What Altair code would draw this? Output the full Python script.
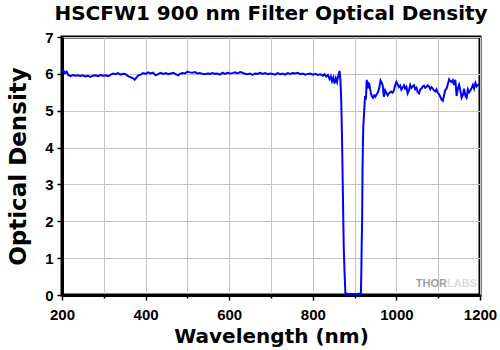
import altair as alt
import pandas as pd

# Wavelength (nm) and optical density
wavelength = [
    200, 203, 207, 211, 215, 220, 226, 232, 238, 244, 250, 256, 262, 268, 274, 280, 286, 292, 298,
    304, 310, 316, 322, 328, 334, 340, 346, 352, 358, 364, 370, 374, 378, 382, 388, 394,
    400, 406, 412, 418, 424, 430, 436, 442, 448, 454, 460, 466, 472, 478, 482, 488, 494,
    500, 506, 512, 518, 524, 530, 536, 542, 548, 554, 560, 566, 572, 578, 584, 590, 596,
    602, 608, 614, 620, 626, 632, 638, 644, 650, 656, 662, 668, 674, 680, 686, 692, 698,
    704, 710, 716, 722, 728, 734, 740, 746, 752, 758, 764, 770, 776, 782, 788, 794,
    800, 806, 812, 818, 824, 828, 832, 836, 840, 843, 846, 849, 852, 855, 858, 861, 864,
    866, 868, 870, 872, 874, 876, 878, 885, 895, 905, 915,
    916, 917, 918, 919, 920, 921, 923, 925, 927, 929, 931, 933, 935, 937, 939, 941, 944, 947,
    950, 953, 956, 959, 962, 964, 967, 970, 973, 976, 979, 982, 985, 988, 991, 994, 997,
    1000, 1003, 1006, 1009, 1012, 1015, 1018, 1021, 1024, 1027, 1030, 1033, 1036, 1039, 1042,
    1045, 1048, 1051, 1054, 1057, 1060, 1063, 1066, 1069, 1072, 1075, 1078, 1081, 1084, 1087,
    1090, 1093, 1096, 1099, 1102, 1105, 1108, 1111, 1114, 1117, 1120, 1123, 1126, 1129, 1132,
    1135, 1138, 1141, 1144, 1147, 1150, 1153, 1156, 1159, 1162, 1165, 1168, 1171, 1174, 1177,
    1180, 1183, 1186, 1189, 1192, 1195, 1200,
]
optical_density = [
    6.05, 6.10, 6.02, 6.06, 5.97, 5.94, 5.97, 5.95, 5.96, 5.94, 5.96, 5.93, 5.95, 5.92, 5.95, 5.96, 5.94, 5.97, 5.95,
    5.96, 5.94, 5.97, 6.01, 5.99, 6.02, 5.98, 6.00, 5.99, 5.94, 5.91, 5.88, 5.84, 5.90, 5.95, 5.98, 6.02,
    6.00, 6.04, 6.01, 6.03, 5.96, 5.99, 6.03, 6.00, 6.02, 5.99, 6.01, 6.03, 5.99, 5.96, 6.00, 6.02, 6.01,
    6.06, 6.04, 6.03, 6.05, 6.01, 6.02, 6.00, 5.99, 6.01, 6.00, 6.02, 6.00, 6.01, 5.98, 6.03, 6.00, 6.03,
    6.01, 6.02, 6.04, 6.01, 6.05, 6.03, 6.00, 5.99, 6.01, 5.97, 6.01, 6.00, 6.03, 6.00, 6.02, 5.99, 6.01,
    6.00, 5.98, 6.02, 5.99, 6.01, 5.98, 6.02, 6.00, 6.02, 6.01, 6.03, 5.99, 6.01, 5.98, 6.00, 6.01,
    5.98, 6.00, 5.97, 5.99, 5.95, 5.99, 5.93, 5.97, 5.86, 5.93, 5.80, 5.90, 5.74, 5.88, 5.78, 5.96, 6.08,
    5.85, 5.30, 4.20, 2.75, 1.30, 0.60, 0.04, 0.03, 0.03, 0.03, 0.04,
    0.55, 1.40, 2.00, 3.40, 4.20, 4.60, 5.00, 5.40, 5.30, 5.84, 5.60, 5.75, 5.73, 5.60, 5.48, 5.40, 5.35, 5.42,
    5.38, 5.45, 5.50, 5.62, 5.82, 5.78, 5.70, 5.38, 5.55, 5.48, 5.42, 5.47, 5.50, 5.52, 5.49, 5.55, 5.68,
    5.78, 5.72, 5.64, 5.68, 5.57, 5.62, 5.69, 5.60, 5.65, 5.47, 5.55, 5.70, 5.62, 5.66, 5.69,
    5.58, 5.62, 5.50, 5.47, 5.58, 5.60, 5.66, 5.68, 5.62, 5.64, 5.69, 5.66, 5.58, 5.64, 5.60,
    5.55, 5.52, 5.58, 5.48, 5.45, 5.38, 5.30, 5.27, 5.42, 5.56, 5.60, 5.72, 5.85, 5.80, 5.78,
    5.83, 5.70, 5.84, 5.40, 5.60, 5.70, 5.55, 5.35, 5.42, 5.60, 5.40, 5.35, 5.58, 5.50, 5.55,
    5.62, 5.70, 5.60, 5.75, 5.66, 5.70, 5.68,
]

x_grid_values = list(range(200, 1201, 100))
y_grid_values = [i / 2 for i in range(0, 15)]

df = pd.DataFrame({"wl": wavelength, "od": optical_density})

FONT = "Liberation Sans"
WIDE = "DejaVu Sans"

line = alt.Chart(df).mark_line(color="#0000FF", strokeWidth=2).encode(
    x=alt.X(
        "wl:Q",
        scale=alt.Scale(domain=[200, 1200], nice=False, zero=False),
        axis=alt.Axis(
            title="Wavelength (nm)",
            titleFont=WIDE,
            titleFontSize=20,
            values=x_grid_values,
            format="d",
            labelExpr="datum.value % 200 === 0 ? datum.label : ''",
            tickSize={"condition": {"test": "datum.value % 200 === 0", "value": 5}, "value": 3},
            labelPadding=7,
            titlePadding=4,
            labelFlush=False,
            labelOverlap=False,
            grid=True,
        ),
    ),
    y=alt.Y(
        "od:Q",
        scale=alt.Scale(domain=[0, 7], nice=False),
        axis=alt.Axis(
            title="Optical Density",
            titleFont=WIDE,
            titleFontSize=23,
            values=y_grid_values,
            format="d",
            labelExpr="datum.value % 1 === 0 ? datum.label : ''",
            tickSize={"condition": {"test": "datum.value % 1 === 0", "value": 5}, "value": 3},
            labelPadding=4,
            titlePadding=14,
            labelFlush=False,
            labelOverlap=False,
            grid=True,
        ),
    ),
)

thor = alt.Chart(pd.DataFrame({"t": ["THOR"]})).mark_text(
    font=FONT, fontSize=11, fontWeight="bold", color="#a0a0a0", align="right", baseline="alphabetic"
).encode(x=alt.value(385), y=alt.value(250), text="t:N")
labs = alt.Chart(pd.DataFrame({"t": ["LABS"]})).mark_text(
    font=FONT, fontSize=11, fontWeight="bold", color="#dcdcdc", align="left", baseline="alphabetic"
).encode(x=alt.value(385), y=alt.value(250), text="t:N")

chart = (
    alt.layer(line, thor, labs)
    .properties(
        width=418,
        height=258,
        autosize="none",
        padding={"left": 62, "top": 37, "right": 20, "bottom": 55},
        title=alt.TitleParams(
            "HSCFW1 900 nm Filter Optical Density",
            font=WIDE, fontSize=20, fontWeight="bold", color="black", anchor="middle", offset=6,
        ),
    )
    .configure_view(stroke="black", strokeWidth=3)
    .configure_axis(
        labelFont=FONT, labelFontSize=15, labelFontWeight="bold", labelColor="black",
        titleFont=FONT, titleFontSize=20, titleFontWeight="bold", titleColor="black",
        domainColor="black", domainWidth=3, tickColor="black", tickWidth=1.5,
        gridColor="#c4c4c4", gridWidth=1,
    )
)

chart.save("out.html", embed_options={"renderer": "svg", "actions": False})
